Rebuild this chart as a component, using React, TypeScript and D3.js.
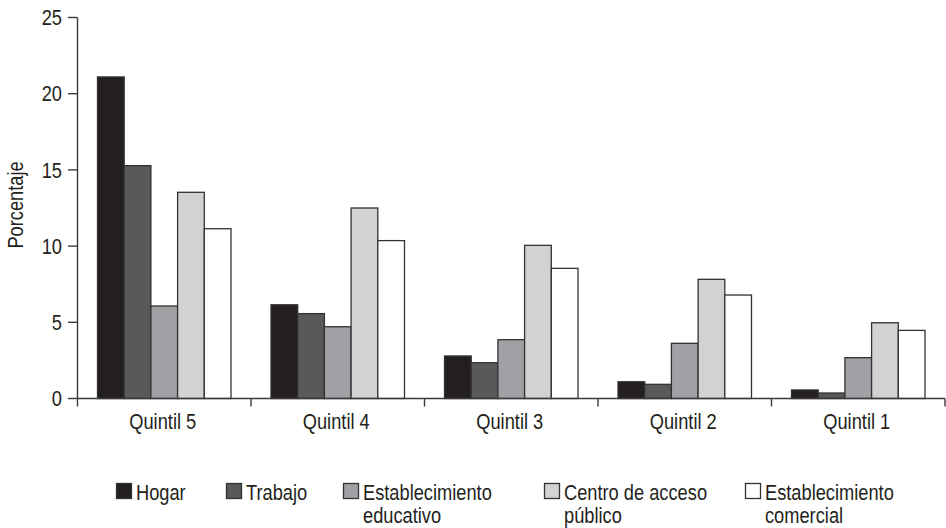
import React from "react";
import * as d3 from "d3";

const categories = ["Quintil 5", "Quintil 4", "Quintil 3", "Quintil 2", "Quintil 1"];
const seriesNames = ["Hogar", "Trabajo", "Establecimiento educativo", "Centro de acceso público", "Establecimiento comercial"];
const legendLines = [["Hogar"], ["Trabajo"], ["Establecimiento", "educativo"], ["Centro de acceso", "público"], ["Establecimiento", "comercial"]];
const hogar = [21.1, 6.15, 2.79, 1.1, 0.56];
const trabajo = [15.28, 5.57, 2.35, 0.93, 0.36];
const educativo = [6.07, 4.71, 3.86, 3.62, 2.68];
const centro = [13.53, 12.5, 10.05, 7.82, 4.97];
const comercial = [11.14, 10.36, 8.54, 6.79, 4.47];
const yTicks = [0, 5, 10, 15, 20, 25];
const colors = ["#231f20", "#58595b", "#a0a1a4", "#d1d2d4", "#ffffff"];
const legendX = [116, 226, 343, 544, 745];

const series = [hogar, trabajo, educativo, centro, comercial];

const FONT = "'Liberation Sans', Arial, sans-serif";
const INK = "#231f20";
const SX = 0.83;

function NText({ x, y, anchor = "start", rotate = 0, dy, children }: any) {
  return (
    <text transform={`translate(${x},${y}) rotate(${rotate}) scale(${SX},1)`} textAnchor={anchor}
      dy={dy} fontSize={22} fill={INK} fontFamily={FONT}>{children}</text>
  );
}

export default function App() {
  const W = 946, H = 528;
  const x0 = d3.scaleBand<string>().domain(categories).range([77.5, 945]).padding(0);
  const step = x0.bandwidth();
  const x1 = d3.scaleBand<number>().domain(d3.range(series.length)).range([20, step - 20]).padding(0);
  const y = d3.scaleLinear().domain([0, 25]).range([398.5, 17.5]);
  const axisColor = "#3a3a3a";

  return (
    <svg width={W} height={H} style={{ position: "absolute", left: 0, top: 0, background: "#fff" }}>
      {categories.map((c, ci) => (
        <g key={c} transform={`translate(${x0(c)},0)`}>
          {series.map((s, si) => (
            <rect key={si} x={x1(si)} y={y(s[ci])} width={x1.bandwidth()} height={y(0) - y(s[ci])}
              fill={colors[si]} stroke="#333" strokeWidth={1.3} />
          ))}
        </g>
      ))}
      <line x1={77.5} x2={77.5} y1={y(25)} y2={y(0)} stroke={axisColor} strokeWidth={1.4} />
      {yTicks.map(t => (
        <g key={t}>
          <line x1={68} x2={77.5} y1={y(t)} y2={y(t)} stroke={axisColor} strokeWidth={1.4} />
          <NText x={62} y={y(t)} dy="0.35em" anchor="end">{t}</NText>
        </g>
      ))}
      <line x1={77.5} x2={945} y1={y(0)} y2={y(0)} stroke={axisColor} strokeWidth={1.4} />
      <line x1={77.5} x2={77.5} y1={y(0)} y2={y(0) + 8} stroke={axisColor} strokeWidth={1.4} />
      {categories.map(c => (
        <line key={c} x1={x0(c)! + step} x2={x0(c)! + step} y1={y(0)} y2={y(0) + 8} stroke={axisColor} strokeWidth={1.4} />
      ))}
      {categories.map(c => (
        <NText key={c} x={x0(c)! + step / 2 - 1.5} y={429} anchor="middle">{c}</NText>
      ))}
      <NText x={23} y={205} rotate={-90} anchor="middle">Porcentaje</NText>
      {seriesNames.map((n, i) => (
        <g key={n}>
          <rect x={legendX[i] + 0.5} y={483.5} width={15} height={15} fill={colors[i]} stroke="#333" strokeWidth={1.3} />
          {legendLines[i].map((l, li) => (
            <NText key={li} x={legendX[i] + 20} y={500 + li * 22.5}>{l}</NText>
          ))}
        </g>
      ))}
    </svg>
  );
}
